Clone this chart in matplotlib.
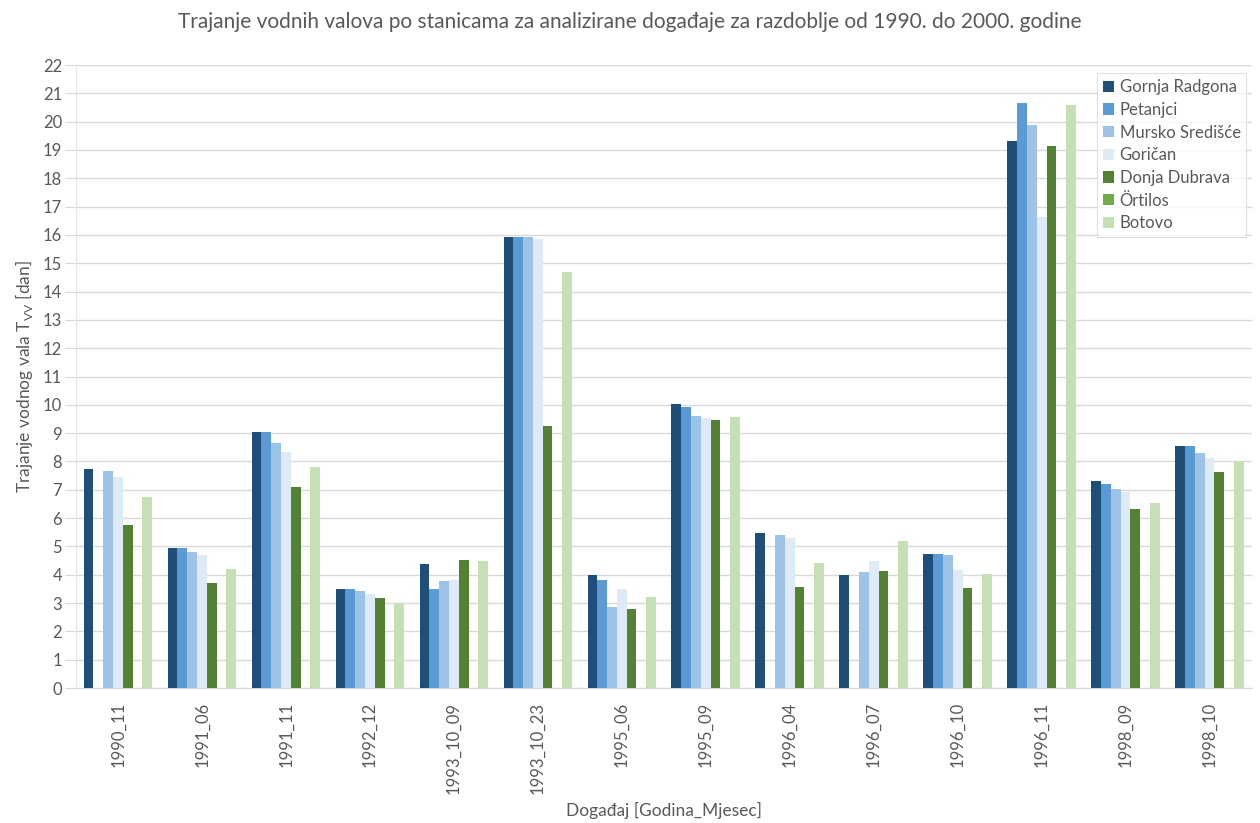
import numpy as np
import matplotlib
matplotlib.use("Agg")
from matplotlib import pyplot as plt

nan = np.nan

events = ["1990_11", "1991_06", "1991_11", "1992_12", "1993_10_09", "1993_10_23", "1995_06",
          "1995_09", "1996_04", "1996_07", "1996_10", "1996_11", "1998_09", "1998_10"]

gornja_radgona = [7.75, 4.93, 9.05, 3.5, 4.38, 15.93, 4.0, 10.02, 5.48, 3.98, 4.72, 19.33, 7.32, 8.55]
petanjci = [nan, 4.93, 9.05, 3.5, 3.48, 15.93, 3.8, 9.93, nan, nan, 4.72, 20.65, 7.22, 8.55]
mursko_srediste = [7.65, 4.8, 8.65, 3.42, 3.78, 15.93, 2.87, 9.62, 5.4, 4.1, 4.68, 19.88, 7.02, 8.3]
gorican = [7.45, 4.68, 8.35, 3.32, 3.8, 15.85, 3.5, 9.55, 5.3, 4.48, 4.18, 16.62, 6.93, 8.12]
donja_dubrava = [5.75, 3.7, 7.1, 3.18, 4.52, 9.25, 2.8, 9.45, 3.57, 4.13, 3.52, 19.13, 6.33, 7.62]
ortilos = [nan] * 14
botovo = [6.75, 4.2, 7.8, 3.02, 4.48, 14.7, 3.2, 9.58, 4.43, 5.18, 4.03, 20.58, 6.52, 8.0]

stations = ["Gornja Radgona", "Petanjci", "Mursko Središće", "Goričan", "Donja Dubrava", "Örtilos", "Botovo"]
series = [gornja_radgona, petanjci, mursko_srediste, gorican, donja_dubrava, ortilos, botovo]
colors = ["#1F4E79", "#5B9BD5", "#9DC3E6", "#DEEBF7", "#548235", "#70AD47", "#C5E0B4"]

plt.rcParams['font.family'] = ['Lato', 'DejaVu Sans']
text_col = "#595959"
grid_col = "#D9D9D9"

fig = plt.figure(figsize=(12.6, 8.23), dpi=100)
ax = fig.add_axes([0.0603, 0.164, 0.933, 0.757])

x = np.arange(len(events))
w = 0.1166
for k in range(len(series)):
    ax.bar(x + (k - 3) * w, series[k], w, color=colors[k], label=stations[k], zorder=3)

ax.set_xlim(-0.5, len(events) - 0.5)
ax.set_ylim(0, 22)
ax.set_yticks(range(0, 23))
ax.set_xticks(x)
ax.set_xticklabels(events, rotation=90, fontsize=12, color=text_col)
ax.tick_params(axis='y', labelsize=12, labelcolor=text_col, length=8, color=grid_col, pad=2)
ax.tick_params(axis='x', length=0, pad=10)
ax.grid(axis='y', color=grid_col, linewidth=1, zorder=0)
for s in ["top", "right"]:
    ax.spines[s].set_visible(False)
ax.spines["left"].set_color("#E6E6E6")
ax.spines["bottom"].set_color(grid_col)

ax.set_ylabel("Trajanje vodnog vala T$_{\\mathregular{VV}}$ [dan]", fontsize=12.5, color=text_col, labelpad=6)
ax.set_xlabel("Događaj [Godina_Mjesec]", fontsize=12.5, color=text_col, labelpad=6)
fig.suptitle("Trajanje vodnih valova po stanicama za analizirane događaje za razdoblje od 1990. do 2000. godine",
             fontsize=15, color=text_col, y=0.985)

leg = ax.legend(loc="upper right", bbox_to_anchor=(0.9985, 0.992), fontsize=12, frameon=True,
                fancybox=False, edgecolor=grid_col, handlelength=0.65, handleheight=0.65,
                handletextpad=0.35, labelspacing=0.4, borderpad=0.35, borderaxespad=0.2)
leg.get_frame().set_linewidth(0.8)
for t in leg.get_texts():
    t.set_color(text_col)

fig.savefig("out.png", dpi=100, facecolor="white")
